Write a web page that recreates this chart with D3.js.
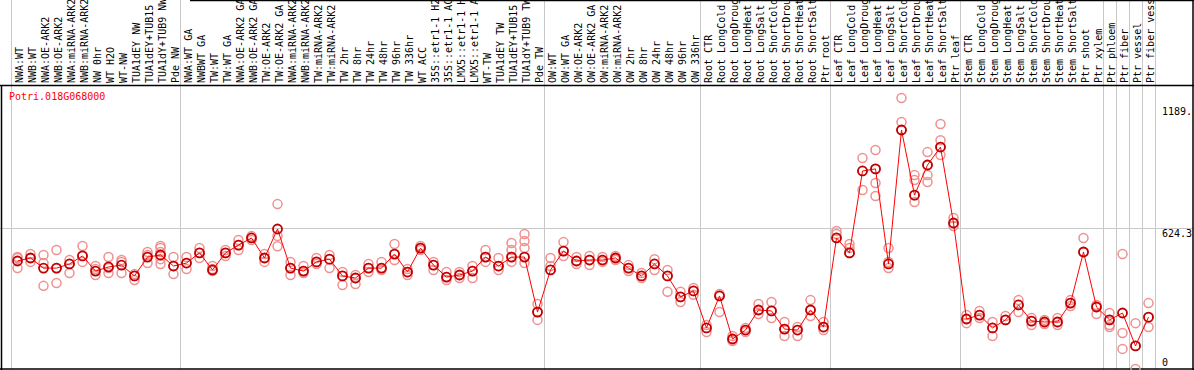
<!DOCTYPE html>
<html>
<head>
<meta charset="utf-8">
<script src="https://cdn.jsdelivr.net/npm/d3@7"></script>
<style>
  body { margin: 0; background: #fff; }
  svg text { font-family: "DejaVu Sans Mono", "Liberation Mono", monospace; font-size: 10px; }
</style>
</head>
<body>
<div class="container"></div>
<script>
const gene = "Potri.018G068000";

const samples = [
  "NWA:WT", "NWB:WT", "NWA:OE-ARK2", "NWB:OE-ARK2", "NWA:miRNA-ARK2", "NWB:miRNA-ARK2",
  "NW 0hr", "WT H2O", "WT-NW", "TUA1dEY NW", "TUA1dEY+TUB15", "TUA1dY+TUB9 NW", "Pde NW",
  "NWA:WT GA", "NWBWT GA", "TW:WT", "TW:WT GA", "NWA:OE-ARK2 GA", "NWB:OE-ARK2 GA",
  "TW:OE-ARK2", "TW:OE-ARK2 GA", "NWA:miRNA-ARK2", "NWB:miRNA-ARK2", "TW:miRNA-ARK2",
  "TW:miRNA-ARK2", "TW 2hr", "TW 8hr", "TW 24hr", "TW 48hr", "TW 96hr", "TW 336hr",
  "WT ACC", "35S::etr1-1 H2", "35S::etr1-1 AC", "LMX5::etr1-1 H", "LMX5::etr1-1 A",
  "WT-TW", "TUA1dEY TW", "TUA1dEY+TUB15", "TUA1dY+TUB9 TW", "Pde TW",
  "OW:WT", "OW:WT GA", "OW:OE-ARK2", "OW:OE-ARK2 GA", "OW:miRNA-ARK2", "OW:miRNA-ARK2",
  "OW 2hr", "OW 8hr", "OW 24hr", "OW 48hr", "OW 96hr", "OW 336hr",
  "Root CTR", "Root LongCold", "Root LongDroug", "Root LongHeat", "Root LongSalt",
  "Root ShortCold", "Root ShortDrou", "Root ShortHeat", "Root ShortSalt", "Ptr root",
  "Leaf CTR", "Leaf LongCold", "Leaf LongDroug", "Leaf LongHeat", "Leaf LongSalt",
  "Leaf ShortCold", "Leaf ShortDrou", "Leaf ShortHeat", "Leaf ShortSalt", "Ptr leaf",
  "Stem CTR", "Stem LongCold", "Stem LongDroug", "Stem LongHeat", "Stem LongSalt",
  "Stem ShortCold", "Stem ShortDrou", "Stem ShortHeat", "Stem ShortSalt", "Ptr shoot",
  "Ptr xylem", "Ptr phloem", "Ptr fiber", "Ptr vessel", "Ptr fiber vess"
];

// mean expression per sample
const means = [
  481, 494, 450, 450, 468, 503, 437, 455, 463, 416, 498, 507, 459,
  472, 516, 442, 516, 550, 581, 494, 620, 450, 437, 477, 489, 416, 407, 450,
  450, 511, 433, 537, 463, 411, 420, 437, 498, 459, 498, 498, 259,
  442, 524, 481, 485, 485, 494, 450, 416, 468, 416, 325, 351,
  190, 329, 142, 181, 268, 264, 185, 181, 268, 194,
  581, 516, 872, 881, 468, 1050, 767, 898, 976, 646,
  229, 246, 190, 225, 290, 220, 216, 216, 298, 520,
  281, 225, 255, 112, 237
];

// replicate values per sample
const reps = [
  [498, 494, 450], [511, 494, 477], [507, 472, 373], [529, 450, 385], [485, 468, 429],
  [546, 503, 477], [459, 446, 420], [498, 450, 429], [485, 477, 429], [424, 416, 398],
  [520, 507, 472], [546, 537, 520, 507, 489, 468], [498, 459, 424],
  [498, 472, 446], [537, 516, 494], [459, 446, 437], [529, 516, 503], [572, 550, 529],
  [589, 581, 572], [511, 494, 477], [728, 590, 545], [477, 450, 420], [459, 437, 429],
  [494, 477, 468], [507, 489, 450], [433, 416, 377], [420, 407, 381], [468, 450, 433],
  [477, 450, 442], [555, 511, 485], [446, 433, 420], [546, 537, 529], [477, 463, 442],
  [433, 411, 398], [433, 420, 407], [459, 437, 407], [529, 498, 477], [494, 459, 442],
  [559, 529, 498, 477], [598, 568, 537, 472], [294, 259, 225],
  [494, 459, 442], [563, 524, 503], [498, 481, 468], [503, 485, 463], [498, 485, 477],
  [503, 494, 485], [463, 450, 437], [429, 416, 407], [489, 468, 442], [442, 416, 347],
  [347, 325, 303], [364, 351, 334],
  [203, 190, 172], [338, 329, 259], [155, 142, 133], [190, 181, 172], [294, 268, 251],
  [303, 264, 233], [216, 185, 155], [194, 181, 155], [311, 268, 242], [216, 194, 181],
  [611, 598, 581], [555, 537, 516], [928, 872, 789], [963, 881, 820, 763], [537, 477, 450],
  [1189, 1085, 1050], [854, 833, 767, 737], [954, 898, 854, 824], [1076, 1006, 976, 941],
  [668, 646, 633],
  [246, 229, 211], [264, 246, 233], [216, 190, 155], [242, 225, 225], [311, 290, 259],
  [233, 220, 203], [225, 216, 207], [233, 216, 203], [311, 298, 285], [581, 520, 520],
  [290, 281, 251], [255, 225, 203, 194], [511, 168, 99], [211, 112, 12], [298, 237, 194]
];

// column indices where a group separator is drawn
const breaks = [0, 13, 41, 53, 63, 73, 84, 85, 86, 87, 88];

const yTicks = [0, 624.3, 1189];
const yTickLabels = ["0", "624.3", "1189."];

const width = 1194;
const height = 370;
const headerBottom = 85.5;

const svg = d3.select(".container").append("svg")
    .attr("width", width).attr("height", height);

const x = d3.scaleLinear().domain([0, samples.length]).range([11, 1155]);
const y = d3.scaleLinear().domain([0, 1189]).range([371.7, 98]);

// horizontal grid line at the middle tick
svg.append("line")
    .attr("x1", 0).attr("x2", width)
    .attr("y1", Math.round(y(624.3)) + 0.5).attr("y2", Math.round(y(624.3)) + 0.5)
    .attr("stroke", "#c8c8c8");

// group separators
svg.append("g").selectAll("line").data(breaks).enter().append("line")
    .attr("x1", d => Math.round(x(d)) + 0.5).attr("x2", d => Math.round(x(d)) + 0.5)
    .attr("y1", 0).attr("y2", height)
    .attr("stroke", "#c8c8c8");

// frame
svg.append("line").attr("x1", 0).attr("x2", width).attr("y1", headerBottom).attr("y2", headerBottom)
    .attr("stroke", "#000").attr("stroke-width", 1.5);
svg.append("line").attr("x1", 190).attr("x2", width).attr("y1", 0.5).attr("y2", 0.5)
    .attr("stroke", "#000").attr("stroke-width", 1.5);
svg.append("line").attr("x1", 1.5).attr("x2", 1.5).attr("y1", headerBottom).attr("y2", height)
    .attr("stroke", "#000").attr("stroke-width", 1.5);
svg.append("line").attr("x1", width - 1).attr("x2", width - 1).attr("y1", 0).attr("y2", height)
    .attr("stroke", "#000").attr("stroke-width", 1.5);
svg.append("line").attr("x1", 0).attr("x2", width).attr("y1", height - 1).attr("y2", height - 1)
    .attr("stroke", "#000").attr("stroke-width", 1.5);

// sample labels
svg.append("g").selectAll("text").data(samples).enter().append("text")
    .attr("transform", (d, i) => `translate(${x(i) + 11.5},83) rotate(-90)`)
    .attr("fill", "#000")
    .text(d => d);

// gene name
svg.append("text").attr("x", 9).attr("y", 100).attr("fill", "#f00").text(gene);

// y labels
svg.append("g").selectAll("text").data(yTicks).enter().append("text")
    .attr("x", 1162)
    .attr("y", (d, i) => i === 0 ? 366 : (i === 1 ? y(d) + 9 : 115))
    .attr("fill", "#000")
    .text((d, i) => yTickLabels[i]);

// replicates
const repPoints = [];
reps.forEach((r, i) => r.forEach(v => repPoints.push({ i, v })));
svg.append("g").selectAll("circle").data(repPoints).enter().append("circle")
    .attr("cx", d => x(d.i + 0.5)).attr("cy", d => y(d.v)).attr("r", 4.5)
    .attr("fill", "none").attr("stroke", "#f09090").attr("stroke-width", 1.5);

// mean line
const line = d3.line().x((d, i) => x(i + 0.5)).y(d => y(d));
svg.append("path").datum(means).attr("d", line)
    .attr("fill", "none").attr("stroke", "#f00").attr("stroke-width", 1);

svg.append("g").selectAll("circle").data(means).enter().append("circle")
    .attr("cx", (d, i) => x(i + 0.5)).attr("cy", d => y(d)).attr("r", 4.5)
    .attr("fill", "none").attr("stroke", "#c00000").attr("stroke-width", 1.8);
</script>
</body>
</html>
